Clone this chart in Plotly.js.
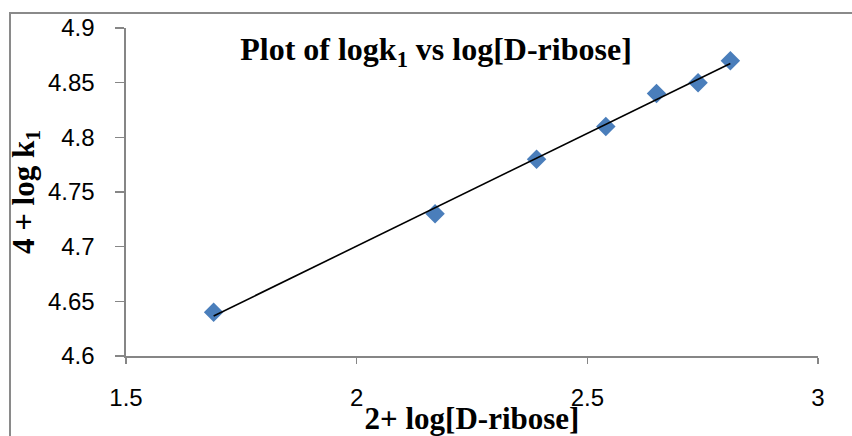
<!DOCTYPE html>
<html>
<head>
<meta charset="utf-8">
<script src="https://cdn.plot.ly/plotly-3.0.1.min.js"></script>
<style>
  html, body { margin: 0; padding: 0; background: #fff; overflow: hidden; }
  #chart { position: absolute; left: 0; top: 0; width: 852px; height: 436px; }
  #frame { position: absolute; left: 9px; top: 12px; width: 900px; height: 500px;
           border: 2px solid #8a8a8a; box-sizing: border-box; pointer-events: none; }
</style>
</head>
<body>
<div id="chart"></div>
<div id="frame"></div>
<script>
// 2 + log[D-ribose] against 4 + log k1
const logRibose = [1.69, 2.17, 2.39, 2.54, 2.65, 2.74, 2.81];
const logK1 = [4.64, 4.73, 4.78, 4.81, 4.84, 4.85, 4.87];
const xTicks = [1.5, 2, 2.5, 3];
const yTicks = [4.6, 4.65, 4.7, 4.75, 4.8, 4.85, 4.9];

// least-squares trend line through the measured points
const n = logRibose.length;
const mx = logRibose.reduce((a, b) => a + b, 0) / n;
const my = logK1.reduce((a, b) => a + b, 0) / n;
let sxy = 0, sxx = 0;
for (let i = 0; i < n; i++) {
  sxy += (logRibose[i] - mx) * (logK1[i] - my);
  sxx += (logRibose[i] - mx) ** 2;
}
const slope = sxy / sxx;
const intercept = my - slope * mx;
const xFit = [Math.min(...logRibose), Math.max(...logRibose)];
const yFit = xFit.map(x => intercept + slope * x);

const axisColor = '#868686';
const tickFont = { family: 'Liberation Sans, Arial, sans-serif', size: 24, color: '#000' };
const titleFont = { family: 'Liberation Serif, Times New Roman, serif', size: 31, color: '#000', weight: 'bold' };

const traces = [
  {
    x: logRibose, y: logK1, type: 'scatter', mode: 'markers',
    marker: { symbol: 'diamond', size: 15, color: '#4a7ebb', line: { width: 0 } },
    cliponaxis: false, hoverinfo: 'x+y'
  },
  {
    x: xFit, y: yFit, type: 'scatter', mode: 'lines',
    line: { color: '#000', width: 1.6 }, hoverinfo: 'skip'
  }
];

const layout = {
  width: 852, height: 436,
  margin: { l: 126, r: 34, t: 28, b: 80, pad: 0 },
  paper_bgcolor: 'rgba(0,0,0,0)', plot_bgcolor: 'rgba(0,0,0,0)',
  showlegend: false,
  title: {
    text: '<b>Plot of logk<sub>1</sub> vs log[D-ribose]</b>',
    font: Object.assign({}, titleFont, { size: 32 }),
    xref: 'paper', x: (436 - 126) / 692, xanchor: 'center',
    yref: 'container', y: 1 - 49 / 436, yanchor: 'middle'
  },
  xaxis: {
    range: [1.5, 3], tickvals: xTicks, ticktext: xTicks.map(String),
    showgrid: false, zeroline: false, showline: true,
    linecolor: axisColor, linewidth: 1.6,
    ticks: 'outside', ticklen: 6, tickwidth: 1.6, tickcolor: axisColor,
    tickfont: tickFont, ticklabelstandoff: 14,
    title: { text: '<b>2+ log[D-ribose]</b>', font: titleFont, standoff: 2 }
  },
  yaxis: {
    range: [4.6, 4.9], tickvals: yTicks, ticktext: yTicks.map(String),
    showgrid: false, zeroline: false, showline: true,
    linecolor: axisColor, linewidth: 1.6,
    ticks: 'outside', ticklen: 9, tickwidth: 1.6, tickcolor: axisColor,
    tickfont: tickFont, ticklabelstandoff: 16,
    title: { text: '<b>4 + log k<sub>1</sub></b>', font: titleFont, standoff: 4 }
  }
};

Plotly.newPlot('chart', traces, layout, { staticPlot: true, displayModeBar: false });
</script>
</body>
</html>
